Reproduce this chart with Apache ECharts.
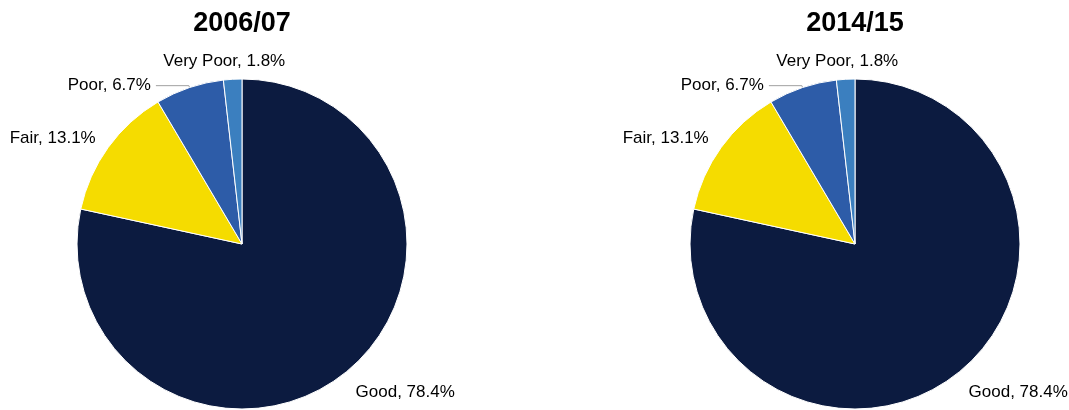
<!DOCTYPE html>
<html>
<head>
<meta charset="utf-8">
<script src="https://cdn.jsdelivr.net/npm/echarts@6/dist/echarts.min.js"></script>
<style>html,body{margin:0;padding:0;background:#fff}#c{width:1069px;height:410px}</style>
</head>
<body>
<div id="c"></div>
<script>
var categories = ['Good', 'Fair', 'Poor', 'Very Poor'];
var titles = ['2006/07', '2014/15'];
var values0607 = [78.4, 13.1, 6.7, 1.8];
var values1415 = [78.4, 13.1, 6.7, 1.8];
var colors = ['#0c1b40', '#f5dc00', '#2d5ca8', '#3b7fbf'];

var chart = echarts.init(document.getElementById('c'));
var centers = [[242, 244], [855, 244]];
var titleX = [237, 850];
// label nudges (dx, dy) relative to ECharts' default outside placement
var labelShift = [[-6, 14], [5, -4], [0, 0], [64, -10]];
function mkData(vals) {
  return categories.map(function (c, i) {
    var d = {
      name: c, value: vals[i],
      itemStyle: { color: colors[i] },
      labelLine: { show: c === 'Poor' }
    };
    if (c === 'Poor') d.labelLine.length = 2, d.labelLine.length2 = 33;
    return d;
  });
}
var font = 'Liberation Sans, Arial, sans-serif';
var series = [values0607, values1415].map(function (vals, k) {
  return {
    type: 'pie',
    center: centers[k],
    radius: 165,
    startAngle: 90,
    clockwise: true,
    avoidLabelOverlap: false,
    animation: false,
    itemStyle: { borderColor: '#fff', borderWidth: 1 },
    label: {
      show: true, position: 'outside',
      formatter: function (p) { return p.name + ', ' + p.value.toFixed(1) + '%'; },
      color: '#000', fontFamily: font, fontSize: 17
    },
    labelLine: { length: 8, length2: 6, lineStyle: { color: '#a0a0a0', width: 1 } },
    labelLayout: function (p) {
      var s = labelShift[p.dataIndex];
      return { dx: s[0], dy: s[1], hideOverlap: false, moveOverlap: null };
    },
    emphasis: { disabled: true },
    data: mkData(vals)
  };
});
chart.setOption({
  backgroundColor: '#fff',
  title: titles.map(function (t, k) {
    return {
      text: t, left: titleX[k], top: 5, textAlign: 'center',
      textStyle: { fontFamily: font, fontWeight: 'bold', fontSize: 27, color: '#000' }
    };
  }),
  series: series
});
</script>
</body>
</html>
